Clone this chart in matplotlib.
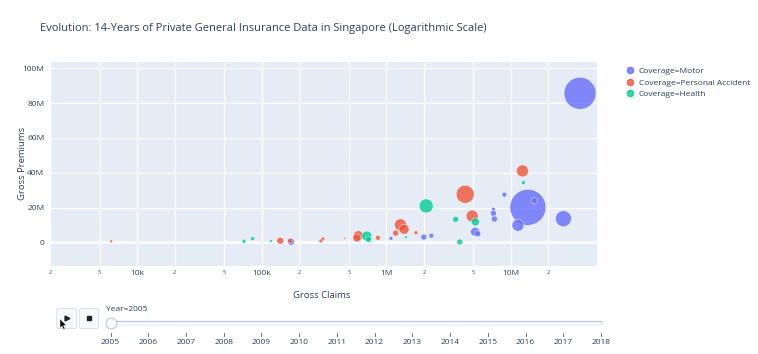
import numpy as np
import matplotlib
matplotlib.use("Agg")
import matplotlib.pyplot as plt
from matplotlib.lines import Line2D
from matplotlib.patches import FancyBboxPatch, Polygon

plt.rcParams['font.family'] = ['Open Sans', 'DejaVu Sans']

# data (year 2005 frame)
coverages = ['Motor', 'Personal Accident', 'Health']
colors = ['#636EFA', '#EF553B', '#00CC96']

motor_claims = [35.9e6, 13.7e6, 15.4e6, 26.4e6, 11.4e6, 8.87e6, 7.24e6, 7.24e6, 7.38e6,
                5.16e6, 5.43e6, 2.0e6, 2.30e6, 1.09e6, 172e3]
motor_premiums = [85.6e6, 20.1e6, 23.9e6, 13.6e6, 9.8e6, 27.4e6, 19.0e6, 16.7e6, 13.4e6,
                  6.1e6, 4.9e6, 3.0e6, 3.8e6, 2.3e6, 0.35e6]
motor_size = [256, 324, 9, 64, 36, 6, 4, 9, 9, 20, 9, 9, 6, 4, 12]

pa_claims = [12.4e6, 4.30e6, 4.89e6, 1.30e6, 1.39e6, 1.19e6, 1.73e6, 857e3, 596e3, 580e3,
             465e3, 310e3, 297e3, 169e3, 141e3, 6.2e3]
pa_premiums = [41.0e6, 27.6e6, 15.1e6, 10.1e6, 7.5e6, 5.3e6, 5.5e6, 2.6e6, 3.8e6, 2.5e6,
               2.3e6, 1.9e6, 0.75e6, 0.9e6, 0.9e6, 0.6e6]
pa_size = [36, 81, 36, 36, 25, 9, 4, 6, 25, 16, 1, 4, 4, 6, 12, 2]

health_claims = [12.6e6, 2.09e6, 5.19e6, 3.61e6, 3.89e6, 1.44e6, 698e3, 720e3, 288e3,
                 119e3, 84.5e3, 72.1e3]
health_premiums = [34.3e6, 20.9e6, 11.7e6, 13.2e6, 0.2e6, 2.9e6, 3.6e6, 1.7e6, 0.75e6,
                   0.75e6, 2.1e6, 0.6e6]
health_size = [4, 49, 16, 9, 9, 2, 25, 9, 1, 2, 4, 4]

years = list(range(2005, 2019))

claims = [motor_claims, pa_claims, health_claims]
premiums = [motor_premiums, pa_premiums, health_premiums]
sizes = [motor_size, pa_size, health_size]

W, H = 758, 354
fig = plt.figure(figsize=(W / 100, H / 100), dpi=100)
txt = '#2a3f5f'

ax = fig.add_axes([50 / W, 1 - 266 / H, 546.7 / W, 203.7 / H])
ax.set_facecolor('#E5ECF6')
for s in ax.spines.values():
    s.set_visible(False)

for i in range(3):
    r2 = np.array(sizes[i], dtype=float)
    ax.scatter(claims[i], premiums[i], s=2.07 * r2, color=colors[i], alpha=0.8,
               edgecolors='white', linewidths=0.4, zorder=3)

ax.set_xscale('log')
ax.set_xlim(10 ** 3.305, 10 ** 7.689)
ax.set_ylim(-13.6e6, 103.4e6)

ax.set_yticks([0, 20e6, 40e6, 60e6, 80e6, 100e6])
ax.set_yticklabels(['0', '20M', '40M', '60M', '80M', '100M'], fontsize=6, color=txt)

major = [1e4, 1e5, 1e6, 1e7]
minor = [m * 10 ** d for d in range(3, 8) for m in (2, 5)]
minor = [v for v in minor if 10 ** 3.305 <= v <= 10 ** 7.689 or abs(np.log10(v) - 3.301) < 0.01]
ax.set_xticks(major)
ax.set_xticklabels(['10k', '100k', '1M', '10M'], fontsize=6, color=txt)
ax.set_xticks(minor, minor=True)
ax.set_xticklabels([str(int(round(v / 10 ** np.floor(np.log10(v))))) for v in minor],
                   minor=True, fontsize=4, color=txt)
ax.tick_params(axis='both', which='both', length=0)
ax.tick_params(axis='x', which='major', pad=3)
ax.tick_params(axis='x', which='minor', pad=3)
ax.tick_params(axis='y', pad=4)
ax.grid(True, which='both', color='white', lw=0.9, zorder=0)
ax.axhline(0, color='white', lw=1.8, zorder=1)
ax.set_axisbelow(True)

fig.text(40 / W, 1 - 29 / H,
         'Evolution: 14-Years of Private General Insurance Data in Singapore (Logarithmic Scale)',
         fontsize=8.0, color=txt, va='center', ha='left')
fig.text(322 / W, 1 - 295 / H, 'Gross Claims', fontsize=6.8, color=txt, ha='center', va='center')
fig.text(23 / W, 1 - 163 / H, 'Gross Premiums', fontsize=6.8, color=txt, ha='center',
         va='center', rotation=90)

handles = [Line2D([], [], marker='o', ls='', color=c, alpha=0.8, markersize=4.5) for c in colors]
fig.legend(handles, ['Coverage=' + c for c in coverages], loc='upper left',
           bbox_to_anchor=(622 / W, 1 - 64 / H), frameon=False, fontsize=6,
           labelcolor=txt, handletextpad=0.6, labelspacing=0.45, borderaxespad=0,
           handlelength=1.0)

# overlay in pixel coordinates for the animation controls
ov = fig.add_axes([0, 0, 1, 1])
ov.set_xlim(0, W)
ov.set_ylim(H, 0)
ov.axis('off')
for x0, x1 in [(56.7, 76.7), (79.3, 98.7)]:
    ov.add_patch(FancyBboxPatch((x0, 308.5), x1 - x0, 20, boxstyle='round,pad=0,rounding_size=2',
                                facecolor='#f6f8fb', edgecolor='#d5dbe4', lw=0.6))
ov.plot([66.5], [318], marker='>', color='#222', markersize=3.5)
ov.plot([89], [318], marker='s', color='#222', markersize=2.3)
ov.add_patch(Polygon([(60, 319), (60, 328), (62, 326), (63.6, 329.5), (65, 328.8),
                      (63.5, 325.5), (66.2, 325.3)], closed=True, facecolor='black',
                     edgecolor='white', lw=0.3))
ov.text(106, 309.5, 'Year=2005', fontsize=6, color=txt, va='center', ha='left')

# slider in year coordinates
sl = fig.add_axes([110.5 / W, 1 - 350 / H, 490.5 / W, 50 / H])
sl.set_xlim(years[0], years[-1])
sl.set_ylim(350, 300)
sl.axis('off')
sl.plot([years[0], years[-1]], [323, 323], color='#bec8d9', lw=3.2, solid_capstyle='round',
        clip_on=False)
sl.plot([years[0], years[-1]], [323, 323], color='#f8fafc', lw=2.0, solid_capstyle='round',
        clip_on=False)
sl.scatter([years[0]], [323], s=60, facecolor='#f8fafc', edgecolor='#bec8d9', lw=0.8,
           zorder=5, clip_on=False)
for y in years:
    sl.plot([y, y], [332.5, 335.5], color='#4a5a72', lw=0.6, clip_on=False)
    sl.text(y, 342.5, str(y), fontsize=6, color=txt, ha='center', va='center')

fig.savefig('out.png', dpi=100)
